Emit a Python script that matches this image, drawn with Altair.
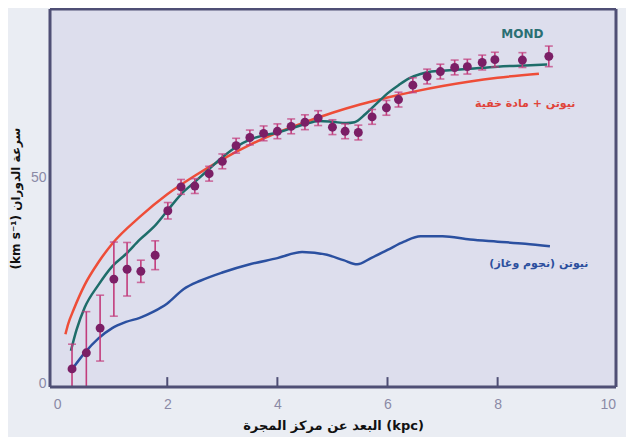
import altair as alt
import pandas as pd

# observed rotation curve points
obs_x = [0.27, 0.53, 0.78, 1.03, 1.27, 1.52, 1.78, 2.01, 2.25, 2.5, 2.76, 3.0, 3.25, 3.5,
         3.75, 4.0, 4.25, 4.5, 4.74, 5.0, 5.23, 5.47, 5.72, 5.98, 6.2, 6.46, 6.72, 6.96,
         7.22, 7.45, 7.72, 7.95, 8.45, 8.93]
obs_y = [3.6, 7.5, 13.5, 25.4, 27.8, 27.3, 31.2, 42.0, 47.8, 48.0, 51.0, 54.0, 57.8, 59.8,
         60.8, 61.3, 62.5, 63.5, 64.5, 62.3, 61.3, 61.0, 64.8, 67.0, 69.0, 72.5, 74.6, 75.8,
         76.8, 77.0, 78.0, 78.7, 78.6, 79.5]
obs_err = [6, 10, 8, 9, 6.5, 2.7, 3.5, 2, 1.8, 1.8, 1.8, 1.8, 1.8, 1.8,
           1.8, 1.8, 1.8, 1.8, 1.8, 1.8, 1.8, 1.8, 1.8, 1.8, 1.8, 1.8, 1.8, 1.8,
           1.8, 1.8, 1.8, 1.8, 1.8, 2.5]

# MOND curve
mond_x = [0.25, 0.35, 0.5, 0.75, 1.0, 1.25, 1.5, 1.75, 2.0, 2.25, 2.5, 2.75, 3.0, 3.25,
          3.5, 3.75, 4.0, 4.25, 4.5, 4.75, 5.0, 5.25, 5.4, 5.6, 5.8, 6.0, 6.2, 6.4, 6.6,
          6.8, 7.0, 7.5, 8.0, 8.5, 8.9]
mond_y = [8, 13, 18.5, 24, 28.5, 31.5, 35, 38, 42, 46, 49, 52, 55, 57.5,
          59.3, 60.3, 61, 62, 63, 63.8, 63.6, 63.3, 63.5, 65.5, 68, 70.5, 72.5, 74.2, 75.2,
          75.8, 76, 76.5, 77, 77.3, 77.5]

# Newton + dark matter
dm_x = [0.15, 0.2, 0.3, 0.5, 0.75, 1.0, 1.5, 2.0, 2.5, 3.0, 3.5, 4.0, 4.5, 5.0, 5.5,
        6.0, 6.5, 7.0, 7.5, 8.0, 8.75]
dm_y = [12, 14.5, 18, 24, 29.5, 34, 40.5, 46, 50.5, 54.5, 58, 61, 63.5, 65.8, 67.8,
        69.5, 71, 72.3, 73.4, 74.3, 75.3]

# Newton (stars and gas)
nw_x = [0.27, 0.5, 0.75, 1.0, 1.25, 1.5, 1.75, 2.0, 2.3, 2.6, 3.0, 3.5, 4.0, 4.45, 4.9,
        5.2, 5.45, 5.7, 6.0, 6.3, 6.6, 7.0, 7.5, 8.0, 8.5, 8.95]
nw_y = [3.5, 7.5, 11, 13.5, 15, 16, 17.5, 19.5, 23, 25, 27, 29, 30.5, 32, 31.3,
        30, 29, 30.5, 32.5, 34.5, 35.8, 35.8, 35, 34.5, 34, 33.4]

x_ticks = [0, 2, 4, 6, 8, 10]
y_ticks = [0, 50]
inner_ticks = [2, 4, 6, 8]
x_lim = [-0.13, 10.15]
y_lim = [-0.8, 91]

labels_text = ["MOND", "\u200fنيوتن + مادة خفية\u200f", "\u200fنيوتن (نجوم وغاز)\u200f"]
labels_x = [8.45, 8.5, 8.75]
labels_y = [85, 68, 29]
labels_color = ["#2a6f73", "#e0443a", "#2b4f9e"]
labels_size = [12, 11, 11]

W, H = 566, 378
FRAME = "#4f4f75"
xs = alt.Scale(domain=x_lim, nice=False, zero=False)
ys = alt.Scale(domain=y_lim, nice=False, zero=False)

obs = pd.DataFrame({"x": obs_x, "y": obs_y, "e": obs_err})
obs["lo"] = obs["y"] - obs["e"]
obs["hi"] = obs["y"] + obs["e"]

def line_df(xv, yv):
    return pd.DataFrame({"x": xv, "y": yv})

X = alt.X("x:Q", scale=xs,
          axis=alt.Axis(values=x_ticks, format="d", title="البعد عن مركز المجرة (kpc)", grid=False,
                        ticks=False, labelPadding=10, labelColor="#8a8aa6", labelFontSize=14,
                        titleFontSize=13, titleFont="DejaVu Sans", titleFontWeight="bold",
                        titleColor="#111111", titlePadding=8, domain=False,
                        labelFont="Liberation Sans"))
Y = alt.Y("y:Q", scale=ys,
          axis=alt.Axis(values=y_ticks, format="d", title="(km s⁻¹) سرعة الدوران", grid=False,
                        ticks=False, labelPadding=4, labelColor="#8a8aa6", labelFontSize=14,
                        titleFontSize=12, titleFont="DejaVu Sans", titleFontWeight="bold",
                        titleColor="#111111", titlePadding=8, domain=False,
                        labelFont="Liberation Sans"))

blue = alt.Chart(line_df(nw_x, nw_y)).mark_line(color="#2b50a0", strokeWidth=2.5,
                                                  interpolate="monotone").encode(x=X, y=Y)
red = alt.Chart(line_df(dm_x, dm_y)).mark_line(color="#ee4d38", strokeWidth=2.5,
                                                 interpolate="monotone").encode(x=X, y=Y)
teal = alt.Chart(line_df(mond_x, mond_y)).mark_line(color="#1e6d6a", strokeWidth=2.5,
                                                      interpolate="monotone").encode(x=X, y=Y)

err = alt.Chart(obs).mark_rule(color="#c23c7c", strokeWidth=1.6, clip=True).encode(
    x=X, y=alt.Y("lo:Q", scale=ys), y2="hi:Q")
cap_lo = alt.Chart(obs).mark_tick(color="#c23c7c", thickness=1.6, size=8,
                                  orient="horizontal", clip=True).encode(
    x=X, y=alt.Y("lo:Q", scale=ys))
cap_hi = alt.Chart(obs).mark_tick(color="#c23c7c", thickness=1.6, size=8,
                                  orient="horizontal").encode(
    x=X, y=alt.Y("hi:Q", scale=ys))
pts = alt.Chart(obs).mark_circle(color="#7b1f66", opacity=1, size=80).encode(x=X, y=Y)

# inner tick marks on the bottom axis
tick_df = pd.DataFrame({"x": inner_ticks, "y0": [y_lim[0]] * 4, "y1": [y_lim[0] + 2.4] * 4})
inner = alt.Chart(tick_df).mark_rule(color=FRAME, strokeWidth=2).encode(
    x=alt.X("x:Q", scale=xs), y=alt.Y("y0:Q", scale=ys), y2="y1:Q")

# frame: all four edges at the limits of the scales
edge_df = pd.DataFrame({
    "x0": [x_lim[0], x_lim[1], x_lim[0], x_lim[0]],
    "x1": [x_lim[1], x_lim[1], x_lim[1], x_lim[0]],
    "y0": [y_lim[1], y_lim[0], y_lim[0], y_lim[0]],
    "y1": [y_lim[1], y_lim[1], y_lim[0], y_lim[1]]})
edges = alt.Chart(edge_df).mark_rule(color=FRAME, strokeWidth=3, opacity=1).encode(
    x=alt.X("x0:Q", scale=xs), x2="x1:Q", y=alt.Y("y0:Q", scale=ys), y2="y1:Q")

lab = pd.DataFrame({"t": labels_text, "x": labels_x, "y": labels_y, "c": labels_color,
                    "s": labels_size})
texts = alt.Chart(lab).mark_text(font="DejaVu Sans", fontWeight="bold").encode(
    x=alt.X("x:Q", scale=xs), y=alt.Y("y:Q", scale=ys), text="t:N",
    color=alt.Color("c:N", scale=None), size=alt.Size("s:Q", scale=None))

chart = alt.layer(blue, red, teal, err, cap_lo, cap_hi, pts, inner, texts, edges).properties(
    width=W, height=H,
    background="#eaedf3",
    padding={"left": 42, "top": 1, "right": 10, "bottom": 50},
    autosize=alt.AutoSizeParams(type="none"),
).configure_view(fill="#dddeed", strokeWidth=0)

chart.save("out.html", embed_options={"renderer": "svg", "actions": False})
